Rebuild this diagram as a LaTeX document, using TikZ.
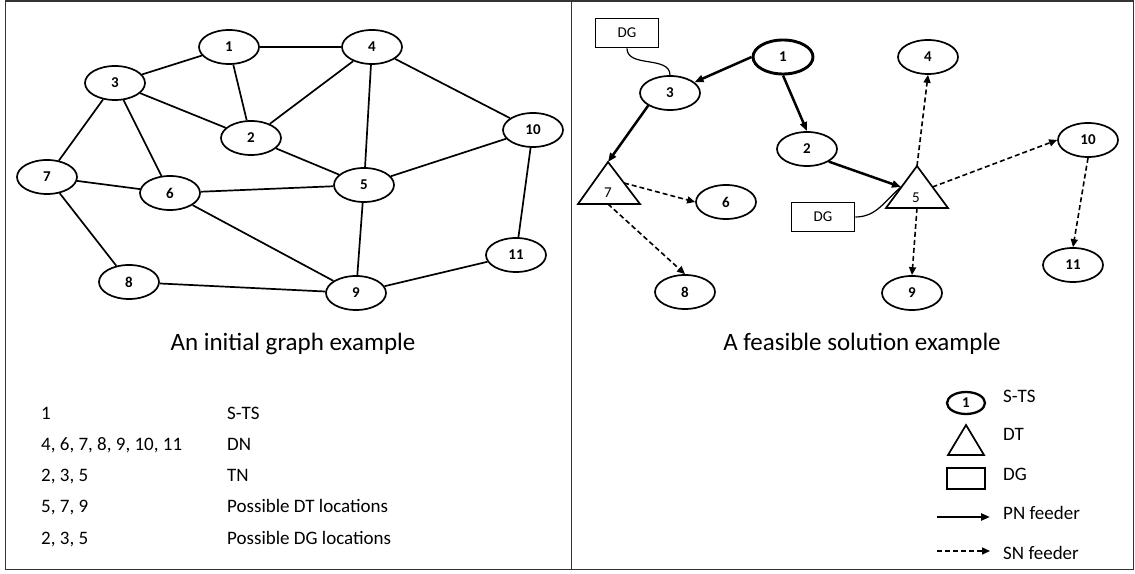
\documentclass[tikz,border=0pt]{standalone}
\usepackage{fontspec}
\setmainfont{Carlito}
\usetikzlibrary{shapes.geometric,arrows.meta}

\begin{document}
\begin{tikzpicture}[x=1pt, y=1pt,
    vertex/.style={draw, ellipse, line width=1.7pt, minimum width=60pt, minimum height=34pt, inner sep=0pt, font=\fontsize{15}{15}\selectfont\bfseries},
    dgbox/.style={draw, rectangle, line width=1.7pt, minimum width=63pt, minimum height=29pt, inner sep=0pt, font=\fontsize{15}{15}\selectfont},
    edge/.style={line width=1.7pt},
    pn/.style={line width=2.5pt, -{Triangle[length=9pt,width=7pt]}},
    sn/.style={line width=1.6pt, dash pattern=on 5pt off 3pt, -{Triangle[length=8pt,width=7pt]}},
    txt/.style={anchor=base west, inner sep=0pt, font=\fontsize{19}{19}\selectfont},
    title/.style={anchor=base, inner sep=0pt, font=\fontsize{25}{25}\selectfont}]
        \useasboundingbox (0, 0) rectangle (1135, 573);

        \draw[line width=1.8pt, black!80] (5.5, 3.5) rectangle (1133.5, 572);
        \draw[line width=1.8pt, black!80] (571.5, 3.5) -- (571.5, 572);

        \node[vertex] (L1) at (229, 526) {1};
        \node[vertex] (L4) at (372, 526) {4};
        \node[vertex] (L3) at (115, 490) {3};
        \node[vertex] (L2) at (251, 435) {2};
        \node[vertex] (L10) at (533, 443) {10};
        \node[vertex] (L7) at (47, 396) {7};
        \node[vertex] (L6) at (170, 380) {6};
        \node[vertex] (L5) at (364, 388) {5};
        \node[vertex] (L11) at (516, 318) {11};
        \node[vertex] (L8) at (129, 291) {8};
        \node[vertex] (L9) at (356, 280) {9};

        \foreach \a/\b in {1/3, 1/4, 1/2, 3/2, 4/2, 4/5, 4/10, 3/7, 3/6, 2/5, 10/5, 10/11, 7/6, 6/5, 7/8, 6/9, 5/9, 8/9, 11/9}
            \draw[edge] (L\a) -- (L\b);

        \node[title] (T1) at (293, 222) {An initial graph example};

        \node[txt] (K1) at (41, 153) {1};
        \node[txt] (K2) at (41, 122) {4, 6, 7, 8, 9, 10, 11};
        \node[txt] (K3) at (41, 91) {2, 3, 5};
        \node[txt] (K4) at (41, 60) {5, 7, 9};
        \node[txt] (K5) at (41, 29) {2, 3, 5};
        \node[txt] (V1) at (227, 153) {S-TS};
        \node[txt] (V2) at (227, 122) {DN};
        \node[txt] (V3) at (227, 91) {TN};
        \node[txt] (V4) at (227, 60) {Possible DT locations};
        \node[txt] (V5) at (227, 29) {Possible DG locations};

        \node[dgbox] (G3) at (627, 540) {DG};
        \node[vertex, line width=2.9pt] (R1) at (783, 516) {1};
        \node[vertex] (R4) at (928, 516) {4};
        \node[vertex] (R3) at (670, 480) {3};
        \node[vertex] (R2) at (807, 424) {2};
        \node[vertex] (R10) at (1088, 433) {10};
        \node[vertex] (R6) at (726, 371) {6};
        \node[dgbox] (G5) at (823, 356) {DG};
        \node[vertex] (R8) at (685, 281) {8};
        \node[vertex] (R9) at (912, 280) {9};
        \node[vertex] (R11) at (1073, 308) {11};

        \coordinate (T7) at (608, 411);
        \coordinate (T7l) at (578, 369);
        \coordinate (T7r) at (640, 369);
        \coordinate (T7e) at (624, 390);
        \coordinate (T7s) at (608, 369);
        \draw[line width=1.7pt] (T7) -- (T7l) -- (T7r) -- cycle;
        \node[font=\fontsize{15}{15}\selectfont] (R7) at (608, 380) {7};

        \coordinate (T5) at (917, 407);
        \coordinate (T5l) at (886, 365);
        \coordinate (T5r) at (948, 365);
        \coordinate (T5w) at (901, 386);
        \coordinate (T5e) at (932.5, 386);
        \coordinate (T5s) at (917, 365);
        \draw[line width=1.7pt] (T5) -- (T5l) -- (T5r) -- cycle;
        \node[font=\fontsize{15}{15}\selectfont] (R5) at (916, 375) {5};

        \draw[line width=1.2pt] (G3.south) to[out=-90, in=90] (R3.north);
        \draw[line width=1.2pt] (G5.east) to[out=0, in=220] (T5w);

        \draw[pn] (R1.west) -- (R3);
        \draw[pn] (R1.south) -- (R2.north);
        \draw[pn] (R3.south west) -- (T7);
        \draw[pn] (R2.south east) -- (T5w);

        \draw[sn] (T7e) -- (R6.west);
        \draw[sn] (T7s) -- (R8.north);
        \draw[sn] (T5) -- (R4.south);
        \draw[sn] (T5e) -- (R10.west);
        \draw[sn] (T5s) -- (R9.north);
        \draw[sn] (R10.south) -- (R11.north);

        \node[title] (T2) at (862, 222) {A feasible solution example};

        \node[draw, ellipse, line width=2.3pt, minimum width=38pt, minimum height=22pt, inner sep=0pt, font=\fontsize{15}{15}\selectfont\bfseries] (S1) at (966, 170) {1};
        \draw[line width=1.7pt] (966, 148) -- (948, 118) -- (984, 118) -- cycle;
        \draw[line width=1.7pt] (947, 84) rectangle (985, 105);
        \coordinate (P1) at (937, 56);
        \coordinate (P2) at (990, 56);
        \coordinate (Q1) at (937, 22);
        \coordinate (Q2) at (990, 22);
        \draw[pn] (P1) -- (P2);
        \draw[sn] (Q1) -- (Q2);

        \node[txt] (W1) at (1003, 170) {S-TS};
        \node[txt] (W2) at (1003, 132) {DT};
        \node[txt] (W3) at (1003, 92) {DG};
        \node[txt] (W4) at (1003, 53) {PN feeder};
        \node[txt] (W5) at (1003, 14) {SN feeder};
    \end{tikzpicture}
\end{document}
